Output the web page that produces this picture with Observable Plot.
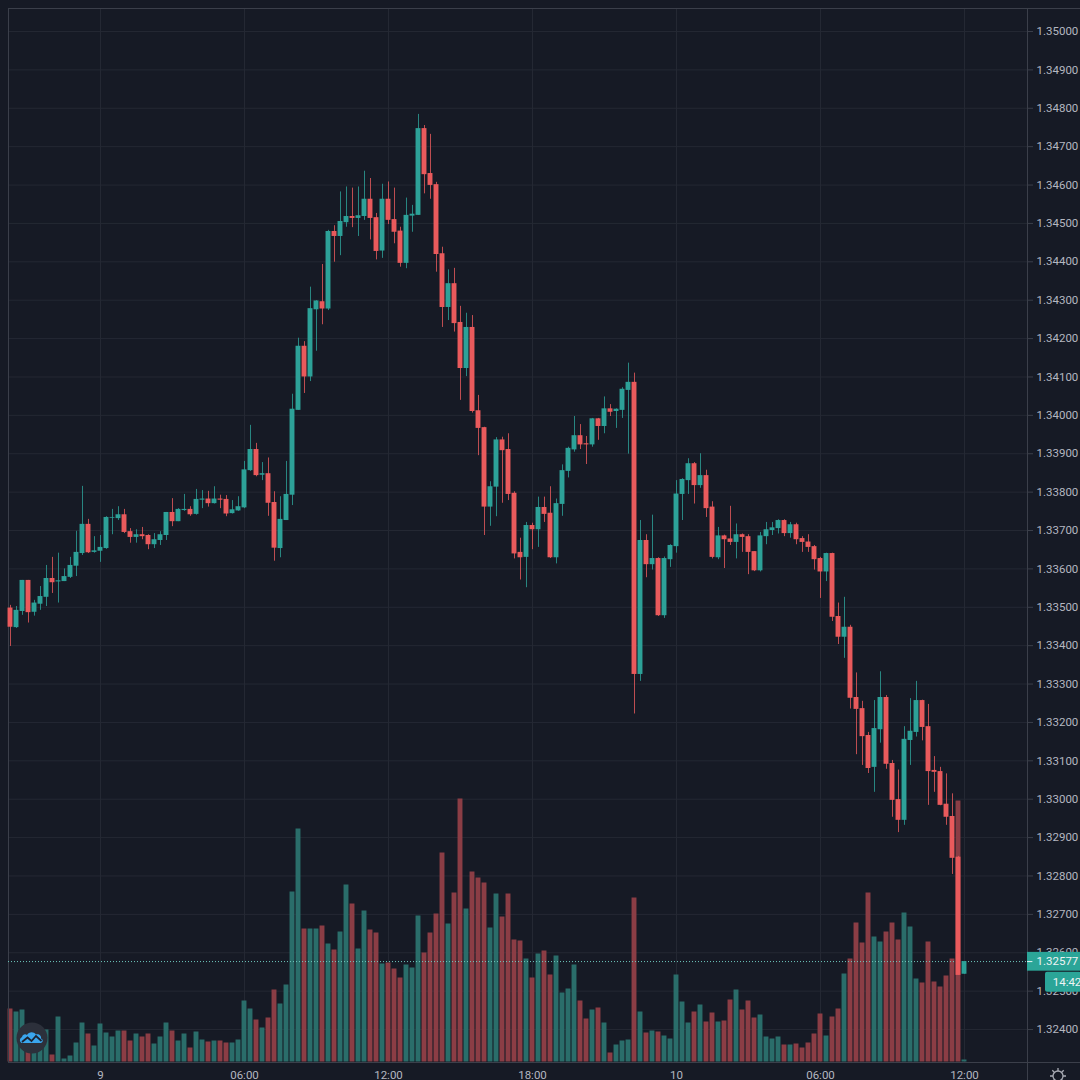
<!DOCTYPE html>
<html>
<head>
<meta charset="utf-8">
<script src="https://cdn.jsdelivr.net/npm/d3@7"></script>
<script src="https://cdn.jsdelivr.net/npm/@observablehq/plot@0.6"></script>
<style>
html,body{margin:0;padding:0;background:#161a25;overflow:hidden}
#wrap{position:relative;width:1080px;height:1080px;overflow:hidden}
#wrap svg.plot{display:block}
.icon{position:absolute}
</style>
</head>
<body>
<div id="wrap"></div>
<script>
// 15-minute candles, GBP/USD style quote
const open = [1.33498,1.33447,1.33489,1.33570,1.33487,1.33508,1.33526,1.33575,1.33566,1.33567,1.33578,1.33607,1.33640,1.33716,1.33643,1.33646,1.33653,1.33732,1.33731,1.33741,
1.33697,1.33682,1.33689,1.33687,1.33663,1.33674,1.33687,1.33747,1.33723,1.33752,1.33755,1.33742,1.33779,1.33782,1.33770,1.33782,1.33781,1.33744,1.33751,1.33759,
1.33856,1.33911,1.33844,1.33848,1.33773,1.33653,1.33726,1.33792,1.34013,1.34180,1.34100,1.34275,1.34296,1.34277,1.34479,1.34466,1.34502,1.34518,1.34513,1.34518,
1.34563,1.34515,1.34428,1.34563,1.34510,1.34480,1.34396,1.34519,1.34521,1.34747,1.34630,1.34601,1.34421,1.34281,1.34343,1.34242,1.34122,1.34229,1.34012,1.33968,
1.33761,1.33813,1.33936,1.33911,1.33797,1.33643,1.33630,1.33713,1.33702,1.33760,1.33745,1.33629,1.33768,1.33854,1.33910,1.33947,1.33926,1.33923,1.33991,1.33971,
1.34017,1.34010,1.34013,1.34065,1.34086,1.33325,1.33674,1.33611,1.33627,1.33478,1.33624,1.33658,1.33794,1.33830,1.33874,1.33817,1.33843,1.33761,1.33629,1.33686,
1.33678,1.33669,1.33689,1.33684,1.33645,1.33595,1.33684,1.33700,1.33705,1.33726,1.33692,1.33715,1.33679,1.33670,1.33658,1.33627,1.33592,1.33640,1.33476,1.33422,
1.33448,1.33265,1.33236,1.33166,1.33083,1.33181,1.33265,1.33093,1.32999,1.32945,1.33153,1.33174,1.33257,1.33189,1.33075,1.33072,1.32987,1.32955,1.32849,1.32544];
const high = [1.33505,1.33502,1.33570,1.33570,1.33518,1.33554,1.33609,1.33630,1.33641,1.33600,1.33630,1.33698,1.33815,1.33729,1.33684,1.33687,1.33736,1.33755,1.33762,1.33755,
1.33705,1.33702,1.33708,1.33689,1.33692,1.33697,1.33747,1.33783,1.33757,1.33794,1.33762,1.33807,1.33804,1.33802,1.33814,1.33792,1.33791,1.33778,1.33788,1.33880,
1.33974,1.33927,1.33877,1.33889,1.33801,1.33788,1.33880,1.34055,1.34201,1.34192,1.34334,1.34299,1.34393,1.34482,1.34494,1.34582,1.34595,1.34592,1.34595,1.34636,
1.34617,1.34526,1.34602,1.34608,1.34592,1.34490,1.34566,1.34547,1.34784,1.34755,1.34732,1.34607,1.34438,1.34379,1.34383,1.34284,1.34266,1.34260,1.34052,1.33969,
1.33827,1.33942,1.33943,1.33952,1.33801,1.33680,1.33721,1.33719,1.33787,1.33787,1.33814,1.33782,1.33871,1.33917,1.33997,1.33976,1.33945,1.33992,1.33992,1.34048,
1.34028,1.34017,1.34072,1.34136,1.34110,1.33726,1.33689,1.33740,1.33629,1.33631,1.33663,1.33830,1.33835,1.33887,1.33877,1.33900,1.33857,1.33775,1.33708,1.33688,
1.33763,1.33717,1.33691,1.33689,1.33645,1.33695,1.33721,1.33721,1.33728,1.33728,1.33721,1.33719,1.33684,1.33689,1.33661,1.33630,1.33641,1.33641,1.33511,1.33526,
1.33453,1.33329,1.33255,1.33174,1.33257,1.33332,1.33270,1.33101,1.33076,1.33189,1.33262,1.33307,1.33258,1.33247,1.33111,1.33083,1.33066,1.33014,1.32851,1.32577];
const low = [1.33398,1.33445,1.33479,1.33459,1.33477,1.33492,1.33502,1.33536,1.33511,1.33567,1.33575,1.33580,1.33635,1.33640,1.33641,1.33617,1.33651,1.33689,1.33726,1.33692,
1.33667,1.33667,1.33676,1.33650,1.33653,1.33661,1.33674,1.33710,1.33723,1.33750,1.33737,1.33740,1.33757,1.33761,1.33769,1.33757,1.33736,1.33743,1.33750,1.33757,
1.33854,1.33840,1.33830,1.33737,1.33620,1.33629,1.33726,1.33765,1.34013,1.34057,1.34088,1.34167,1.34236,1.34273,1.34399,1.34416,1.34490,1.34489,1.34466,1.34508,
1.34457,1.34405,1.34409,1.34497,1.34447,1.34386,1.34382,1.34477,1.34521,1.34577,1.34563,1.34373,1.34229,1.34247,1.34217,1.34039,1.34101,1.34006,1.33895,1.33687,
1.33711,1.33736,1.33771,1.33778,1.33626,1.33571,1.33551,1.33650,1.33656,1.33721,1.33627,1.33613,1.33737,1.33837,1.33904,1.33911,1.33872,1.33917,1.33935,1.33952,
1.33997,1.33966,1.33992,1.33899,1.33222,1.33307,1.33577,1.33597,1.33476,1.33471,1.33604,1.33641,1.33726,1.33794,1.33769,1.33810,1.33734,1.33626,1.33624,1.33601,
1.33661,1.33626,1.33643,1.33585,1.33593,1.33592,1.33663,1.33687,1.33691,1.33684,1.33680,1.33663,1.33643,1.33643,1.33597,1.33523,1.33567,1.33463,1.33403,1.33367,
1.33235,1.33116,1.33088,1.33067,1.33018,1.33146,1.33078,1.32953,1.32913,1.32932,1.33088,1.33162,1.33152,1.32984,1.33018,1.32983,1.32932,1.32804,1.32541,1.32544];
const close = [1.33448,1.33492,1.33570,1.33486,1.33511,1.33528,1.33575,1.33564,1.33569,1.33580,1.33609,1.33643,1.33716,1.33642,1.33647,1.33656,1.33734,1.33734,1.33741,1.33695,
1.33682,1.33689,1.33684,1.33663,1.33676,1.33689,1.33747,1.33723,1.33755,1.33755,1.33741,1.33781,1.33782,1.33770,1.33782,1.33779,1.33743,1.33754,1.33762,1.33858,
1.33911,1.33843,1.33848,1.33771,1.33654,1.33729,1.33794,1.34016,1.34180,1.34100,1.34278,1.34298,1.34277,1.34479,1.34466,1.34505,1.34518,1.34513,1.34520,1.34563,
1.34513,1.34427,1.34563,1.34508,1.34477,1.34396,1.34521,1.34524,1.34747,1.34627,1.34599,1.34419,1.34281,1.34343,1.34239,1.34122,1.34229,1.34010,1.33966,1.33761,
1.33814,1.33936,1.33908,1.33794,1.33639,1.33629,1.33713,1.33702,1.33760,1.33742,1.33629,1.33770,1.33856,1.33914,1.33947,1.33923,1.33923,1.33991,1.33971,1.34017,
1.34008,1.34016,1.34068,1.34086,1.33325,1.33674,1.33611,1.33627,1.33478,1.33627,1.33661,1.33795,1.33833,1.33874,1.33817,1.33843,1.33757,1.33630,1.33686,1.33676,
1.33669,1.33689,1.33682,1.33643,1.33595,1.33686,1.33702,1.33707,1.33726,1.33692,1.33715,1.33676,1.33669,1.33656,1.33624,1.33592,1.33640,1.33474,1.33422,1.33448,
1.33263,1.33234,1.33163,1.33080,1.33184,1.33265,1.33091,1.32997,1.32945,1.33156,1.33177,1.33257,1.33187,1.33072,1.33070,1.32984,1.32953,1.32846,1.32541,1.32577];
const volume = [53,50,52,20,30,28,32,7,45,3,6,19,39,28,16,38,29,25,31,31,
21,28,25,28,18,25,39,31,21,28,14,30,22,20,21,21,19,19,22,61,
53,42,34,44,72,58,77,170,233,133,133,133,136,118,112,130,177,158,113,151,
132,129,98,99,93,84,97,94,146,109,129,148,209,138,169,263,153,190,184,179,
134,168,145,168,122,121,103,84,108,111,87,106,69,73,97,61,43,52,54,39,
9,17,21,22,164,50,29,31,30,26,23,87,60,39,50,57,40,49,40,41,
62,72,52,61,44,47,25,23,25,17,17,18,14,19,28,48,26,45,53,88,
103,139,119,169,125,120,130,139,122,149,135,83,79,120,80,75,86,103,261,2];
const priceTicks = d3.range(0,27).map(k => 1.324 + k*0.001);
const timeTicks = [15,39,63,87,111,135,159];
const timeLabels = ["9","06:00","12:00","18:00","10","06:00","12:00"];
const lastPrice = 1.32577;
const countdown = "14:42";

const UP="#2da198", DOWN="#e95a5c", VUP="#2a6d6a", VDOWN="#8b3d45";
const GRID="#242833", BORDER="#3b3f4a", TEXT="#b4b7c0", BG="#161a25", TAG="#2ba598";
const pricePerVolume = 1/38385, volumeBase = 1.323154;
const halfBody = 0.41, xRight = 169.5, xEnd = 178.5;

const candles = open.map((o,i)=>({i,o,h:high[i],l:low[i],c:close[i],v:volume[i],up:close[i]>=o}));

const chart = Plot.plot({
  width:1080, height:1080,
  marginLeft:8, marginTop:8, marginRight:53, marginBottom:18,
  style:{background:BG, fontFamily:"Roboto, sans-serif", fontSize:"11.5px"},
  x:{domain:[-1/3,xRight], label:null},
  y:{domain:[1.323141,1.350599], label:null},
  marks:[
    Plot.gridY(priceTicks,{stroke:GRID,strokeOpacity:1,x1:-1/3,x2:xRight}),
    Plot.gridX(timeTicks,{stroke:GRID,strokeOpacity:1}),
    Plot.rect(candles,{x1:d=>d.i-halfBody,x2:d=>d.i+halfBody,y1:volumeBase,y2:d=>volumeBase+d.v*pricePerVolume,fill:d=>d.up?VUP:VDOWN}),
    Plot.ruleX([-1/3,xRight],{stroke:BORDER}),
    Plot.ruleX([xRight],{y1:1.3,y2:1.323141,stroke:BORDER,clip:false}),
    Plot.ruleY([1.350599,1.323141],{stroke:BORDER,x1:-1/3,x2:xEnd}),
    Plot.ruleY([lastPrice],{x1:-1/3,x2:xRight,stroke:"#6fc9be",strokeDasharray:"1,2"}),
    Plot.ruleX(candles,{x:"i",y1:"l",y2:"h",stroke:d=>d.up?UP:DOWN,strokeOpacity:0.8}),
    Plot.rect(candles,{x1:d=>d.i-halfBody,x2:d=>d.i+halfBody,y1:d=>Math.min(d.o,d.c),y2:d=>Math.max(d.o,d.c),fill:d=>d.up?UP:DOWN}),
    Plot.axisY(priceTicks,{anchor:"right",tickSize:5,tickPadding:4,stroke:BORDER,fill:TEXT,tickFormat:d3.format(".5f"),label:null,textStroke:"none"}),
    Plot.axisX(timeTicks,{anchor:"bottom",tickSize:0,tickPadding:8,fill:TEXT,tickFormat:(d,k)=>timeLabels[k],label:null}),
    Plot.rect([lastPrice],{x1:xRight,x2:xEnd,y1:1.32552,y2:1.32601,fill:TAG}),
    Plot.ruleY([lastPrice],{x1:xRight,x2:xRight+0.9,stroke:"#e8f4f2"}),
    Plot.text([lastPrice],{x:171.0,y:d=>d,text:d=>d.toFixed(5),fill:"#eef4f4",textAnchor:"start",fontSize:11.5}),
    Plot.rect([countdown],{x1:172.5,x2:xEnd,y1:1.32497,y2:1.32549,fill:TAG,rx:2}),
    Plot.text([countdown],{x:173.7,y:1.32523,text:d=>d,fill:"#eef4f4",textAnchor:"start",fontSize:11.5})
  ]
});
const wrap=document.getElementById("wrap");
chart.classList.add("plot");
wrap.appendChild(chart);

// brand badge and settings gear
const ns = `<svg class="icon" style="left:16px;top:1022px" width="32" height="32" viewBox="0 0 32 32">
<circle cx="16" cy="16" r="15.5" fill="#2c303b"/>
<path d="M6 21c-2.5-.5-3-4.5 0-6 .6-3 3.600-3.500 5-2 1.800-3.200 6.500-3.700 9-.5 3.200-.8 5.500 1.500 5 4 2.500 .8 2.200 4.300-.5 4.500z" fill="#3aa6ee"/>
<path d="M6 20l5.500-4.500 4 3.500 4.500-5 5.500 5" fill="none" stroke="#1c2230" stroke-width="1.800"/>
</svg>
<svg class="icon" style="left:1048px;top:1066px" width="20" height="20" viewBox="0 0 20 20">
<circle cx="10" cy="10" r="5" fill="none" stroke="#a8abb4" stroke-width="1.300"/>
<path d="M10 2v3M10 15v3M2 10h3M15 10h3M4.300 4.300l2 2M13.700 13.700l2 2M15.700 4.300l-2 2M6.300 13.700l-2 2" stroke="#a8abb4" stroke-width="1.300"/>
</svg>`;
wrap.insertAdjacentHTML("beforeend",ns);
</script>
</body>
</html>
